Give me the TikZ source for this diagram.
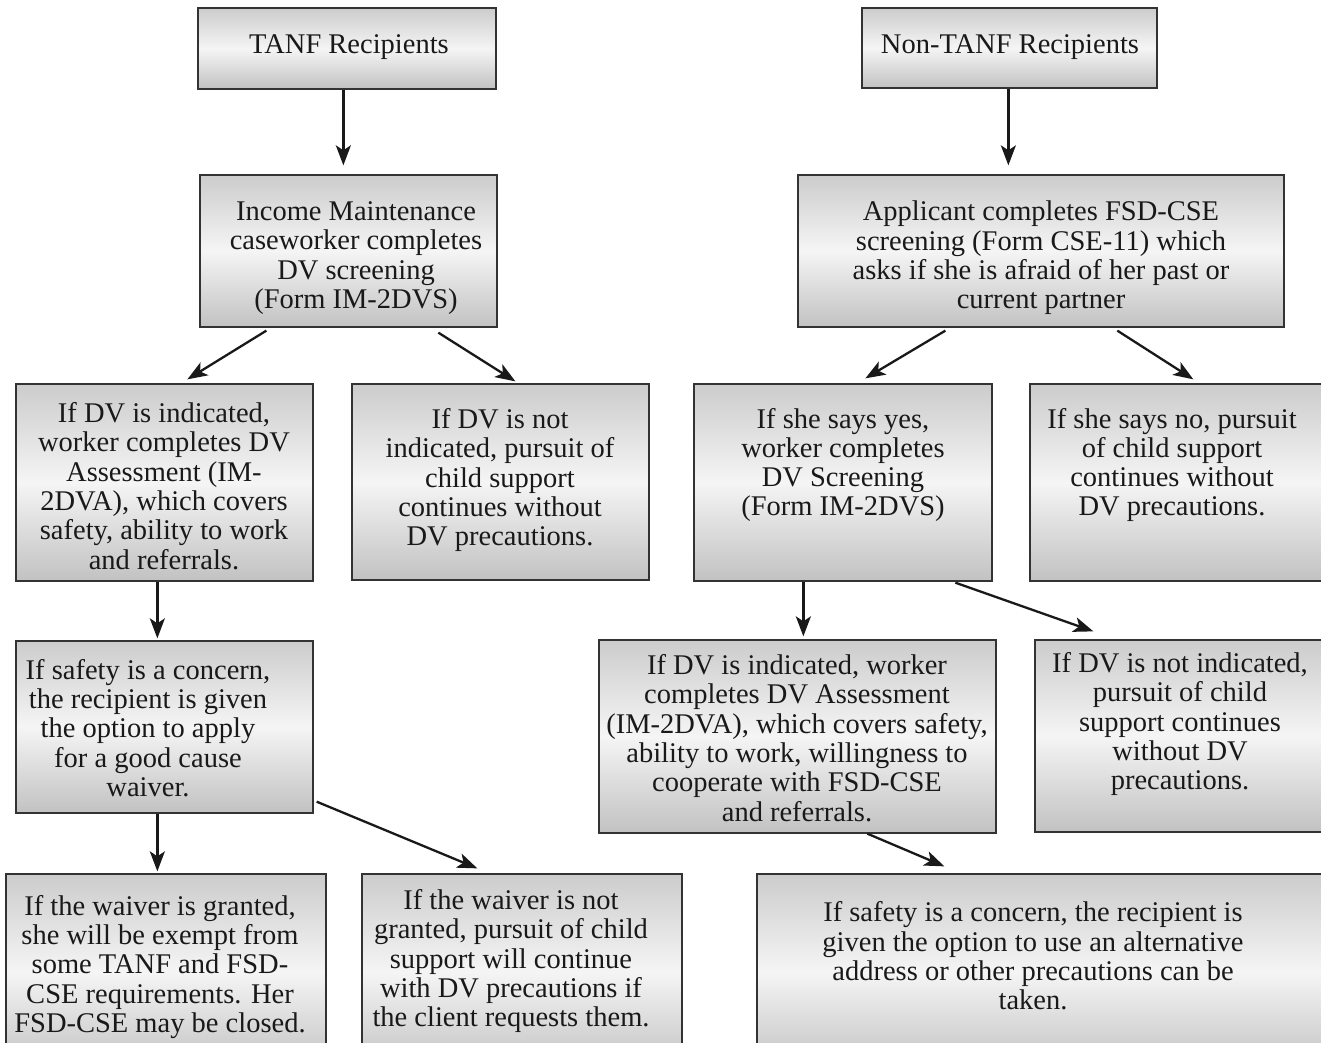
\documentclass[tikz,border=0pt]{standalone}
\usepackage{fontspec}
\setmainfont{Liberation Serif}
\usetikzlibrary{calc,arrows.meta}
\tikzset{
  box/.style={draw=black!80, line width=1.3pt, rectangle, inner sep=0pt,
    top color=black!20, bottom color=black!24, middle color=white!96!black},
  txt/.style={align=center, inner sep=0pt, text=black!90,
    font=\fontsize{28.5}{29.3}\selectfont},
  arr/.style={draw=black!90, line width=2.3pt,
    -{Stealth[length=20pt,width=15pt,inset=5pt]}}
}
\newcommand{\mybox}[5]{% name, left, top, right, bottom
  \node[box, minimum width={#4-#2}, minimum height={#5-#3}] (#1)
    at ({(#2+#4)/2},{(#3+#5)/2}) {};}
\begin{document}
\begin{tikzpicture}[x=1pt,y=-1pt]
\useasboundingbox (0,0) rectangle (1321,1042);
\clip (0,0) rectangle (1321,1042);
\fill[white] (0,0) rectangle (1321,1042);

\mybox{b1}{198}{8}{496}{89}
\mybox{b2}{862}{8}{1157}{88}
\mybox{b3}{200}{175}{497}{327}
\mybox{b4}{798}{175}{1284}{327}
\mybox{b5}{16}{384}{313}{581}
\mybox{b6}{352}{384}{649}{580}
\mybox{b7}{694}{384}{992}{581}
\mybox{b8}{1030}{384}{1340}{581}
\mybox{b9}{16}{641}{313}{813}
\mybox{b10}{599}{640}{996}{833}
\mybox{b11}{1035}{640}{1340}{832}
\mybox{b12}{6}{874}{326}{1070}
\mybox{b13}{362}{874}{682}{1070}
\mybox{b14}{757}{874}{1340}{1070}

\node[txt] (t1) at (349,47) {TANF Recipients};
\node[txt] (t2) at (1010,47) {Non-TANF Recipients};
\node[txt] (t3) at (356,258) {Income Maintenance\\caseworker completes\\DV screening\\(Form IM-2DVS)};
\node[txt] (t4) at (1041,258) {Applicant completes FSD-CSE\\screening (Form CSE-11) which\\asks if she is afraid of her past or\\current partner};
\node[txt] (t5) at (164,486) {If DV is indicated,\\worker completes DV\\Assessment (IM-\\2DVA), which covers\\safety, ability to work\\and referrals.};
\node[txt] (t6) at (500,480) {If DV is not\\indicated, pursuit of\\child support\\continues without\\DV precautions.};
\node[txt] (t7) at (843,465) {If she says yes,\\worker completes\\DV Screening\\(Form IM-2DVS)};
\node[txt] (t8) at (1172,465) {If she says no, pursuit\\of child support\\continues without\\DV precautions.};
\node[txt] (t9) at (148,728) {If safety is a concern,\\the recipient is given\\the option to apply\\for a good cause\\waiver.};
\node[txt] (t10) at (797,738) {If DV is indicated, worker\\completes DV Assessment\\(IM-2DVA), which covers safety,\\ability to work, willingness to\\cooperate with FSD-CSE\\and referrals.};
\node[txt] (t11) at (1180,724) {If DV is not indicated,\\pursuit of child\\support continues\\without DV\\precautions.};
\node[txt] (t12) at (160,967) {If the waiver is granted,\\she will be exempt from\\some TANF and FSD-\\CSE requirements. Her\\FSD-CSE may be closed.};
\node[txt] (t13) at (511,961) {If the waiver is not\\granted, pursuit of child\\support will continue\\with DV precautions if\\the client requests them.};
\node[txt] (t14) at (1033,956) {If safety is a concern, the recipient is\\given the option to use an alternative\\address or other precautions can be\\taken.};

\draw[arr] ($(b1.south west)+(146,0)$) -- ($(b3.north west)+(144,-9)$);
\draw[arr] ($(b2.south west)+(147,0)$) -- ($(b4.north west)+(211,-9)$);
\draw[arr] ($(b3.south west)+(67,3)$) -- ($(b5.north west)+(172,-4)$);
\draw[arr] ($(b3.south west)+(239,5)$) -- ($(b6.north west)+(164,-2)$);
\draw[arr] ($(b4.south west)+(148,3)$) -- ($(b7.north west)+(172,-5)$);
\draw[arr] ($(b4.south west)+(320,3)$) -- ($(b8.north west)+(164,-4)$);
\draw[arr] ($(b5.south west)+(142,0)$) -- ($(b9.north west)+(142,-2)$);
\draw[arr] ($(b7.south west)+(110,0)$) -- ($(b10.north west)+(205,-3)$);
\draw[arr] ($(b7.south west)+(262,1)$) -- ($(b11.north west)+(59,-8)$);
\draw[arr] ($(b9.south west)+(142,0)$) -- ($(b12.north west)+(152,-2)$);
\draw[arr] ($(b9.south east)+(3,-12)$) -- ($(b13.north west)+(116,-5)$);
\draw[arr] ($(b10.south west)+(269,0)$) -- ($(b14.north west)+(188,-7)$);
\end{tikzpicture}
\end{document}
